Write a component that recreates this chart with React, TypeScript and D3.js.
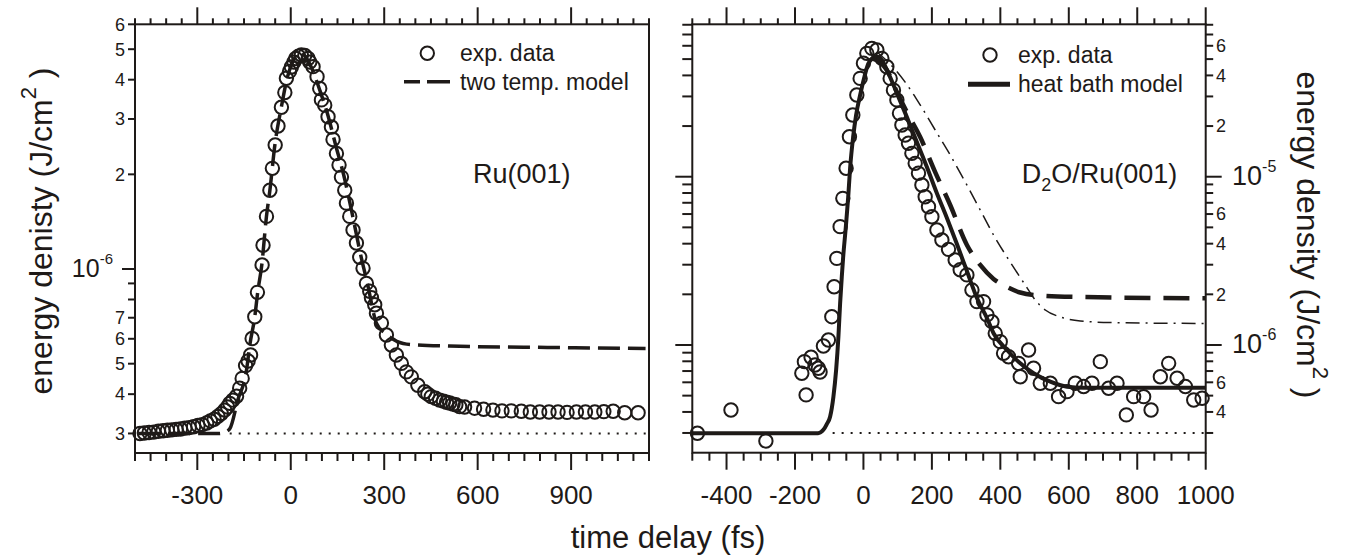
import React from "react";
import * as d3 from "d3";

const W = 1361;
const H = 557;
const FONT = "'Liberation Sans', Arial, Helvetica, sans-serif";
const INK = "#1e1a18";

// ---------- Ru(001) panel ----------
const ruTime = [
  -484, -470, -455, -440, -425, -410, -396, -382, -368, -354, -340, -326, -312, -298, -284, -270,
  -258, -246, -234, -223, -212, -203, -196, -186, -174, -164, -156, -145, -137, -129, -124, -115.5,
  -107, -92, -89, -78, -67, -59, -50, -41, -30, -19, -14, -4, 2, 10, 16, 25, 34, 45, 55.6, 61, 71.6,
  84.4, 93, 98.5, 109, 119.7, 130.6, 135.7, 146.6, 155, 162.7, 173.3, 178.7, 189.3, 199.9, 210.8,
  221.4, 232, 242.9, 253.5, 259, 269.5, 275, 291, 307, 323, 339, 355, 371, 387, 408, 430, 440, 451,
  465, 478, 490, 500, 510, 521, 530, 542, 558, 590, 619, 649, 678, 708, 740, 769, 799, 829, 858, 887,
  917, 946, 976, 1005, 1035, 1072, 1115,
];
const ruExp = [
  3.0e-7, 3.01e-7, 3.02e-7, 3.03e-7, 3.05e-7, 3.06e-7, 3.07e-7, 3.08e-7, 3.09e-7, 3.1e-7, 3.12e-7,
  3.13e-7, 3.15e-7, 3.18e-7, 3.2e-7, 3.24e-7, 3.29e-7, 3.33e-7, 3.4e-7, 3.47e-7, 3.56e-7, 3.64e-7,
  3.74e-7, 3.83e-7, 3.94e-7, 4.18e-7, 4.49e-7, 4.93e-7, 5.1e-7, 5.33e-7, 6.01e-7, 7.05e-7, 8.43e-7,
  1.03e-6, 1.19e-6, 1.47e-6, 1.78e-6, 2.09e-6, 2.48e-6, 2.85e-6, 3.27e-6, 3.64e-6, 4.04e-6, 4.25e-6,
  4.39e-6, 4.55e-6, 4.67e-6, 4.75e-6, 4.79e-6, 4.78e-6, 4.67e-6, 4.55e-6, 4.4e-6, 4.09e-6, 3.75e-6,
  3.45e-6, 3.32e-6, 3.05e-6, 2.83e-6, 2.58e-6, 2.33e-6, 2.14e-6, 1.96e-6, 1.78e-6, 1.62e-6, 1.47e-6,
  1.33e-6, 1.21e-6, 1.09e-6, 1.005e-6, 9.0e-7, 8.5e-7, 8.1e-7, 7.7e-7, 7.23e-7, 6.73e-7, 6.17e-7,
  5.73e-7, 5.33e-7, 5.01e-7, 4.71e-7, 4.54e-7, 4.27e-7, 4.07e-7, 4.0e-7, 3.93e-7, 3.88e-7, 3.83e-7,
  3.8e-7, 3.77e-7, 3.75e-7, 3.72e-7, 3.7e-7, 3.65e-7, 3.64e-7, 3.61e-7, 3.58e-7, 3.56e-7, 3.54e-7,
  3.54e-7, 3.53e-7, 3.51e-7, 3.51e-7, 3.51e-7, 3.51e-7, 3.5e-7, 3.51e-7, 3.51e-7, 3.51e-7, 3.52e-7,
  3.53e-7, 3.49e-7, 3.49e-7,
];
const ruModelTime = [
  -490, -230, -215, -196, -170, -142, -131.5, -115.5, -106, -93, -78, -67, -51, -30, -13, 6, 26, 42,
  67, 93, 119, 144, 170, 196, 221, 247, 275, 302, 327, 372, 510, 831, 1139,
];
const ruModel = [
  3.0e-7, 3.0e-7, 3.02e-7, 3.1e-7, 3.83e-7, 4.77e-7, 5.73e-7, 7.05e-7, 8.45e-7, 1.03e-6, 1.47e-6,
  1.78e-6, 2.48e-6, 3.28e-6, 3.99e-6, 4.55e-6, 4.83e-6, 4.79e-6, 4.36e-6, 3.71e-6, 3.09e-6, 2.48e-6,
  1.99e-6, 1.52e-6, 1.15e-6, 8.9e-7, 6.73e-7, 6.26e-7, 5.99e-7, 5.77e-7, 5.69e-7, 5.63e-7, 5.59e-7,
];
const ruBaselineLevel = 3.0e-7;
const ruXMajor = [-300, 0, 300, 600, 900];
const ruXMajorLabels = ["-300", "0", "300", "600", "900"];
const ruYTicks = [3e-7, 4e-7, 5e-7, 6e-7, 7e-7, 8e-7, 9e-7, 1e-6, 2e-6, 3e-6, 4e-6, 5e-6, 6e-6];
const ruYLabels = ["3", "4", "5", "6", "7", "", "", "10^-6", "2", "3", "4", "5", "6"];

// ---------- D2O/Ru(001) panel ----------
const d2oTime = [
  -485, -387, -285, -180, -172.5, -167.5, -153, -141.5, -131.8, -126.7, -116.9, -102.3, -92.4, -85.7,
  -77.8, -68.1, -60.2, -50.6, -40.9, -31, -19.3, -9.6, 0, 9.9, 24.6, 39.2, 53.8, 68.4, 78.1, 87.7,
  97.7, 105.3, 112.3, 121.9, 131.6, 141.5, 151.2, 160.8, 170.8, 180.4, 190.1, 200, 214.6, 229.2,
  248.5, 268, 282.7, 302.3, 317, 331.6, 351, 360.8, 375.4, 385.1, 399.7, 409.4, 424, 453.2, 458.2,
  482.5, 497.1, 516.7, 546, 570.1, 594.7, 619, 643.3, 667.7, 692.1, 716.4, 740.9, 768.1, 789.5,
  818.7, 840.4, 867.5, 891.8, 916.4, 940.7, 965, 989.5,
];
const d2oExp = [
  2.99e-7, 4.11e-7, 2.69e-7, 6.79e-7, 7.96e-7, 5.05e-7, 8.45e-7, 7.6e-7, 7.27e-7, 6.91e-7, 9.86e-7,
  1.071e-6, 1.473e-6, 2.22e-6, 3.27e-6, 5.05e-6, 7.44e-6, 1.122e-5, 1.729e-5, 2.326e-5, 3.06e-5,
  3.84e-5, 4.72e-5, 5.41e-5, 5.79e-5, 5.66e-5, 5.05e-5, 4.5e-5, 3.84e-5, 3.27e-5, 2.86e-5, 2.38e-5,
  2.03e-5, 1.77e-5, 1.58e-5, 1.377e-5, 1.201e-5, 1.048e-5, 8.93e-6, 7.6e-6, 6.63e-6, 5.78e-6,
  4.82e-6, 4.21e-6, 3.7e-6, 3.2e-6, 2.8e-6, 2.61e-6, 2.12e-6, 1.81e-6, 1.81e-6, 1.51e-6, 1.376e-6,
  1.173e-6, 1.047e-6, 8.92e-7, 8.52e-7, 7.78e-7, 6.48e-7, 9.34e-7, 7.27e-7, 5.92e-7, 5.92e-7,
  4.93e-7, 5.28e-7, 5.92e-7, 5.66e-7, 5.92e-7, 7.96e-7, 5.53e-7, 5.92e-7, 3.84e-7, 4.93e-7, 4.93e-7,
  4.11e-7, 6.48e-7, 7.78e-7, 6.34e-7, 5.66e-7, 4.71e-7, 4.82e-7,
];
const heatBathTime = [
  -498, -132.5, -117, -107, -97.4, -87.7, -79.8, -73.1, -68.1, -63.2, -59.4, -51.5, -44.7, -38.9,
  -30.1, -21.3, -9.6, 2, 13.7, 25.4, 39.2, 53.8, 68.4, 97.7, 126.9, 156.1, 185.4, 214.6, 243.9,
  273.1, 302.3, 331.6, 360.8, 380.1, 419.3, 458.2, 497.1, 545.9, 594.7, 643.3, 1001,
];
const heatBath = [
  2.99e-7, 2.99e-7, 3.13e-7, 3.39e-7, 3.75e-7, 4.93e-7, 7.1e-7, 1.12e-6, 1.77e-6, 2.55e-6, 3.29e-6,
  5.02e-6, 7.47e-6, 1.127e-5, 1.72e-5, 2.33e-5, 3.06e-5, 3.86e-5, 4.67e-5, 5.04e-5, 5.16e-5,
  4.94e-5, 4.31e-5, 3.14e-5, 2.26e-5, 1.608e-5, 1.142e-5, 7.97e-6, 5.68e-6, 3.98e-6, 2.75e-6,
  1.9e-6, 1.447e-6, 1.174e-6, 9.34e-7, 7.78e-7, 6.79e-7, 6.05e-7, 5.65e-7, 5.57e-7, 5.57e-7,
];
const dashedModelTime = [
  24.6, 68.4, 97.7, 126.9, 165.8, 209.6, 253.5, 302.3, 341.2, 380.1, 414.3, 458.2, 516.7, 633.6, 1001,
];
const dashedModel = [
  5.07e-5, 4.31e-5, 3.19e-5, 2.42e-5, 1.72e-5, 1.066e-5, 6.79e-6, 3.93e-6, 2.99e-6, 2.47e-6,
  2.24e-6, 2.05e-6, 1.968e-6, 1.93e-6, 1.895e-6,
];
const dashDotTime = [
  39.2, 78.1, 121.9, 165.8, 209.6, 253.5, 297.4, 341.2, 385.1, 428.9, 472.8, 502, 531.3, 575.1, 633.6,
  721.3, 1001,
];
const dashDotModel = [
  5.51e-5, 4.67e-5, 3.65e-5, 2.67e-5, 1.895e-5, 1.346e-5, 9.3e-6, 6.34e-6, 4.32e-6, 3.11e-6, 2.27e-6,
  1.85e-6, 1.614e-6, 1.467e-6, 1.389e-6, 1.36e-6, 1.342e-6,
];
const d2oBaselineLevel = 3.0e-7;
const d2oXMajor = [-400, -200, 0, 200, 400, 600, 800, 1000];
const d2oXMajorLabels = ["-400", "-200", "0", "200", "400", "600", "800", "1000"];
const d2oYTicks = [
  3e-7, 4e-7, 5e-7, 6e-7, 7e-7, 8e-7, 9e-7, 1e-6, 2e-6, 3e-6, 4e-6, 5e-6, 6e-6, 7e-6, 8e-6, 9e-6,
  1e-5, 2e-5, 3e-5, 4e-5, 5e-5, 6e-5, 7e-5, 8e-5,
];
const d2oYLabels = [
  "", "4", "", "6", "", "", "", "10^-6", "2", "", "4", "", "6", "", "", "", "10^-5", "2", "", "4",
  "", "6", "", "",
];

const isMajor = (v: number) => Math.abs(Math.log10(v) - Math.round(Math.log10(v))) < 1e-6;

function range(a: number, b: number, s: number) {
  const out: number[] = [];
  for (let v = a; v <= b + 1e-9; v += s) out.push(v);
  return out;
}

export default function App() {
  // Left panel scales
  const L = { x0: 135, x1: 649, y0: 24.3, y1: 453 };
  const xL = d3.scaleLinear().domain([-500, 1150]).range([L.x0, L.x1]);
  const yL = d3.scaleLog().domain([2.6e-7, 6e-6]).range([L.y1, L.y0]);
  // Right panel scales
  const R = { x0: 692.3, x1: 1205.7, y0: 24.3, y1: 452.7 };
  const xR = d3.scaleLinear().domain([-500, 1000]).range([R.x0, R.x1]);
  const yR = d3.scaleLog().domain([2.29e-7, 8.05e-5]).range([R.y1, R.y0]);

  const lineL = d3
    .line<number>()
    .x((_, i) => xL(ruModelTime[i]))
    .y((d) => yL(d))
    .curve(d3.curveMonotoneX);
  const mkLineR = (ts: number[]) =>
    d3
      .line<number>()
      .x((_, i) => xR(ts[i]))
      .y((d) => yR(d))
      .curve(d3.curveMonotoneX);

  const sw = 2;
  const xTicks = (
    xs: d3.ScaleLinear<number, number>,
    lo: number,
    hi: number,
    majors: number[],
    top: number,
    bottom: number,
    key: string
  ) => {
    const els: JSX.Element[] = [];
    range(lo, hi, 50).forEach((v, i) => {
      const maj = majors.some((m) => Math.abs(m - v) < 1e-6);
      const x = xs(v);
      const lb = maj ? 17 : 8;
      const lt = maj ? 17 : 6;
      els.push(<line key={`${key}b${i}`} x1={x} x2={x} y1={bottom} y2={bottom + lb} stroke={INK} strokeWidth={sw} />);
      els.push(<line key={`${key}t${i}`} x1={x} x2={x} y1={top} y2={top - lt} stroke={INK} strokeWidth={sw} />);
    });
    return els;
  };

  const supLabel = (label: string, x: number, y: number, anchor: "start" | "end", big: number, small: number, key: string) => {
    if (label.startsWith("10^")) {
      const exp = label.slice(3);
      return (
        <text key={key} x={x} y={y + 8} textAnchor={anchor} fontSize={big} fontFamily={FONT} fill={INK}>
          10
          <tspan dy={-13} fontSize={small}>
            {exp}
          </tspan>
        </text>
      );
    }
    return (
      <text key={key} x={x} y={y} dy="0.35em" textAnchor={anchor} fontSize={18} fontFamily={FONT} fill={INK}>
        {label}
      </text>
    );
  };

  return (
    <svg width={W} height={H} style={{ position: "absolute", left: 0, top: 0, background: "#fff" }}>
      <rect x={0} y={0} width={W} height={H} fill="#fff" />

      {/* ===== Left panel ===== */}
      {/* dotted baseline */}
      <line x1={xL(-196)} x2={L.x1} y1={yL(ruBaselineLevel)} y2={yL(ruBaselineLevel)} stroke={INK} strokeWidth={2} strokeDasharray="2 7" />
      {/* model */}
      <path d={lineL(ruModel) || ""} fill="none" stroke={INK} strokeWidth={3.5} strokeDasharray="22 8" />
      {/* exp data */}
      {ruExp.map((v, i) => (
        <circle key={`rc${i}`} cx={xL(ruTime[i])} cy={yL(v)} r={6.7} fill="none" stroke={INK} strokeWidth={2} />
      ))}
      {/* frame */}
      <rect x={L.x0} y={L.y0} width={L.x1 - L.x0} height={L.y1 - L.y0} fill="none" stroke={INK} strokeWidth={sw} />
      {xTicks(xL, -500, 1150, ruXMajor, L.y0, L.y1, "lx")}
      {ruXMajor.map((v, i) => (
        <text key={`lxl${i}`} x={xL(v)} y={504} textAnchor="middle" fontSize={26} fontFamily={FONT} fill={INK}>
          {ruXMajorLabels[i]}
        </text>
      ))}
      {ruYTicks.map((v, i) => {
        const y = yL(v);
        const len = isMajor(v) ? 13 : 7;
        return <line key={`lyt${i}`} x1={L.x0 - len} x2={L.x0} y1={y} y2={y} stroke={INK} strokeWidth={sw} />;
      })}
      {ruYTicks.map((v, i) =>
        ruYLabels[i]
          ? supLabel(ruYLabels[i], isMajor(v) ? 113 : 125, yL(v), "end", 25, 15, `lyl${i}`)
          : null
      )}
      {/* legend */}
      <circle cx={427.3} cy={53.3} r={6.7} fill="none" stroke={INK} strokeWidth={2} />
      <text x={460} y={61} fontSize={23} fontFamily={FONT} fill={INK}>exp. data</text>
      <line x1={404} x2={450} y1={81.7} y2={81.7} stroke={INK} strokeWidth={3.5} strokeDasharray="16 7 30" />
      <text x={460} y={89.5} fontSize={23} fontFamily={FONT} fill={INK}>two temp. model</text>
      <text x={473} y={183} fontSize={27} fontFamily={FONT} fill={INK}>Ru(001)</text>

      {/* ===== Right panel ===== */}
      <line x1={xR(-90)} x2={R.x1} y1={yR(d2oBaselineLevel)} y2={yR(d2oBaselineLevel)} stroke={INK} strokeWidth={2} strokeDasharray="2 7" />
      <path d={mkLineR(dashDotTime)(dashDotModel) || ""} fill="none" stroke={INK} strokeWidth={1.5} strokeDasharray="14 6 2 6" />
      <path d={mkLineR(dashedModelTime)(dashedModel) || ""} fill="none" stroke={INK} strokeWidth={4.5} strokeDasharray="26 13" />
      <path d={mkLineR(heatBathTime)(heatBath) || ""} fill="none" stroke={INK} strokeWidth={4} />
      {d2oExp.map((v, i) => (
        <circle key={`dc${i}`} cx={xR(d2oTime[i])} cy={yR(v)} r={6.7} fill="none" stroke={INK} strokeWidth={2} />
      ))}
      <rect x={R.x0} y={R.y0} width={R.x1 - R.x0} height={R.y1 - R.y0} fill="none" stroke={INK} strokeWidth={sw} />
      {xTicks(xR, -500, 1000, d2oXMajor, R.y0, R.y1, "rx")}
      {d2oXMajor.map((v, i) => (
        <text key={`rxl${i}`} x={xR(v)} y={504} textAnchor="middle" fontSize={26} fontFamily={FONT} fill={INK}>
          {d2oXMajorLabels[i]}
        </text>
      ))}
      {d2oYTicks.map((v, i) => {
        const y = yR(v);
        const maj = isMajor(v);
        return (
          <g key={`ryt${i}`}>
            <line x1={R.x0 - (maj ? 17 : 10)} x2={R.x0} y1={y} y2={y} stroke={INK} strokeWidth={sw} />
            <line x1={R.x1} x2={R.x1 + (maj ? 16 : 7.5)} y1={y} y2={y} stroke={INK} strokeWidth={sw} />
          </g>
        );
      })}
      {d2oYTicks.map((v, i) =>
        d2oYLabels[i]
          ? supLabel(d2oYLabels[i], isMajor(v) ? 1232 : 1216, yR(v), "start", 27, 16, `ryl${i}`)
          : null
      )}
      {/* legend */}
      <circle cx={990} cy={55} r={6.7} fill="none" stroke={INK} strokeWidth={2} />
      <text x={1018} y={63} fontSize={23} fontFamily={FONT} fill={INK}>exp. data</text>
      <line x1={968} x2={1010} y1={84.3} y2={84.3} stroke={INK} strokeWidth={5} />
      <text x={1018} y={92} fontSize={23} fontFamily={FONT} fill={INK}>heat bath model</text>
      <text x={1021.7} y={183} fontSize={27} fontFamily={FONT} fill={INK}>
        D<tspan dy={8} fontSize={18}>2</tspan>
        <tspan dy={-8}>O/Ru(001)</tspan>
      </text>

      {/* ===== Axis titles ===== */}
      <text x={668} y={548} textAnchor="middle" fontSize={31} fontFamily={FONT} fill={INK}>
        time delay (fs)
      </text>
      <text transform="translate(52,231) rotate(-90)" textAnchor="middle" fontSize={32} fontFamily={FONT} fill={INK}>
        energy denisty (J/cm<tspan dy={-16} fontSize={22}>2</tspan>
        <tspan dy={16}> )</tspan>
      </text>
      <text transform="translate(1297,235) rotate(90)" textAnchor="middle" fontSize={32} fontFamily={FONT} fill={INK}>
        energy density (J/cm<tspan dy={-16} fontSize={22}>2</tspan>
        <tspan dy={16}> )</tspan>
      </text>
    </svg>
  );
}
